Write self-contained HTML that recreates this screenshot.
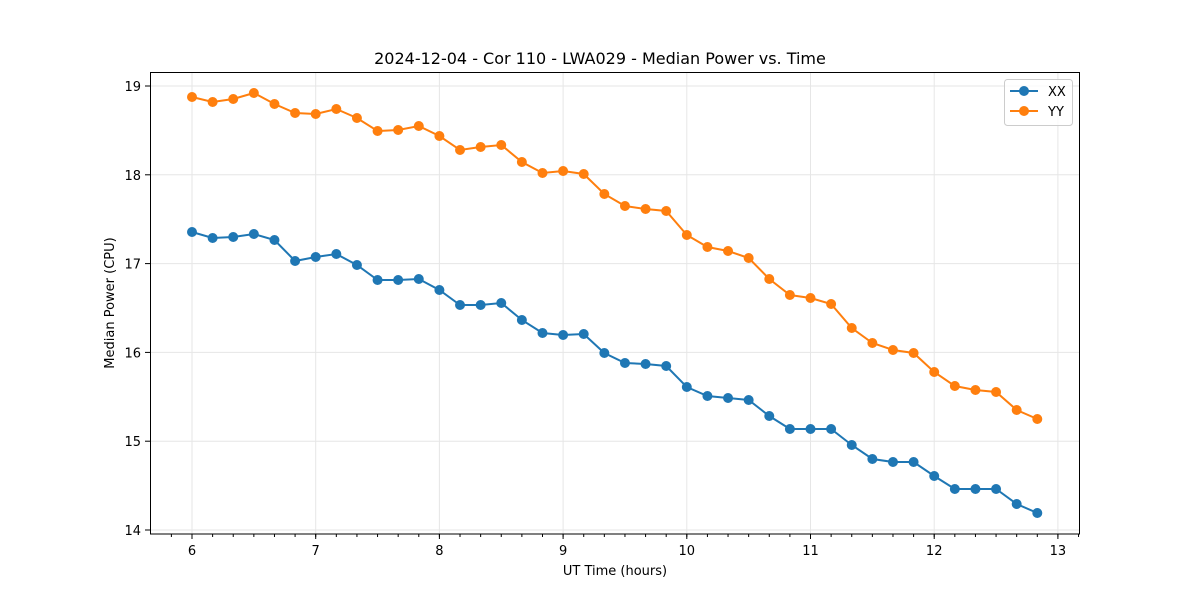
<!DOCTYPE html>
<html><head><meta charset="utf-8"><style>body{margin:0;background:#fff}svg{display:block}text{font-family:"DejaVu Sans","Liberation Sans",sans-serif}</style></head>
<body>
<svg id="s" width="1200" height="600" xmlns="http://www.w3.org/2000/svg">
<rect width="1200" height="600" fill="#fff"/>
<g id="grid"></g>
<g id="data"></g>
<rect x="150.5" y="72.5" width="929" height="461.5" fill="none" stroke="#000" stroke-width="1"/>
<g id="ticks"></g>
<text x="600" y="64" font-size="16" text-anchor="middle">2024-12-04 - Cor 110 - LWA029 - Median Power vs. Time</text>
<text x="615" y="575" font-size="13" text-anchor="middle">UT Time (hours)</text>
<text transform="translate(114,303) rotate(-90)" font-size="13" text-anchor="middle">Median Power (CPU)</text>
<g>
<rect x="1004.5" y="79.5" width="68" height="46" rx="3" fill="#fff" fill-opacity="0.8" stroke="#ccc"/>
<line x1="1010" y1="91" x2="1038" y2="91" stroke="#1f77b4" stroke-width="2"/><circle cx="1024" cy="91" r="5" fill="#1f77b4"/>
<text x="1048" y="96" font-size="13">XX</text>
<line x1="1010" y1="111" x2="1038" y2="111" stroke="#ff7f0e" stroke-width="2"/><circle cx="1024" cy="111" r="5" fill="#ff7f0e"/>
<text x="1048" y="116" font-size="13">YY</text>
</g>
</svg>
<script>
const NS="http://www.w3.org/2000/svg";
function el(p,t,a,txt){const e=document.createElementNS(NS,t);for(const k in a)e.setAttribute(k,a[k]);if(txt!==undefined)e.textContent=txt;document.getElementById(p).appendChild(e);}
const xp=h=>192+(h-6)*123.7, yp=v=>86+(19-v)*88.8;
for(let h=6;h<=13;h++){const x=xp(h);el('grid','line',{x1:x,x2:x,y1:72,y2:534,stroke:'#e6e6e6'});el('ticks','line',{x1:x,x2:x,y1:534,y2:539,stroke:'#000'});el('ticks','text',{x:x,y:555,'font-size':13,'text-anchor':'middle'},h);}
for(let i=-2;i<=43;i++){const x=192+i*20.617;if(x>151&&x<1079)el('ticks','line',{x1:x,x2:x,y1:534,y2:537,stroke:'#000'});}
for(let v=14;v<=19;v++){const y=yp(v);el('grid','line',{x1:150,x2:1080,y1:y,y2:y,stroke:'#e6e6e6'});el('ticks','line',{x1:145,x2:150,y1:y,y2:y,stroke:'#000'});el('ticks','text',{x:141,y:y+5,'font-size':13,'text-anchor':'end'},v);}
const XX=[232,238,237,234,240,261,257,254,265,280,280,279,290,305,305,303,320,333,335,334,353,363,364,366,387,396,398,400,416,429,429,429,445,459,462,462,476,489,489,489,504,513];
const YY=[97,102,99,93,104,113,114,109,118,131,130,126,136,150,147,145,162,173,171,174,194,206,209,211,235,247,251,258,279,295,298,304,328,343,350,353,372,386,390,392,410,419];
[[XX,'#1f77b4'],[YY,'#ff7f0e']].forEach(([d,c])=>{const pts=d.map((y,i)=>(192+i*20.617).toFixed(1)+','+y).join(' ');el('data','polyline',{points:pts,fill:'none',stroke:c,'stroke-width':2});d.forEach((y,i)=>el('data','circle',{cx:192+i*20.617,cy:y,r:5,fill:c}));});
</script>
</body></html>
